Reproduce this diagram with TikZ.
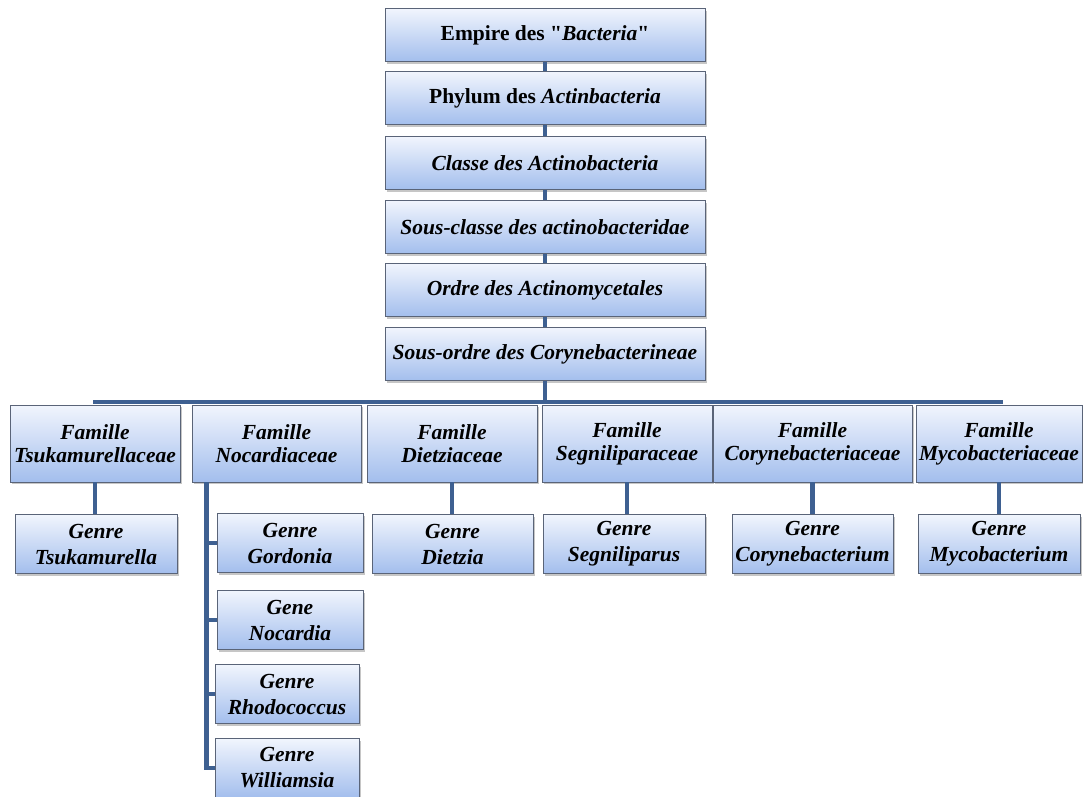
\documentclass[tikz,border=0pt]{standalone}
\usepackage{fontspec}
\setmainfont{Liberation Serif}[Ligatures=TeXOff]
\usetikzlibrary{shadows}
\definecolor{boxtop}{RGB}{241,245,253}
\definecolor{boxbottom}{RGB}{163,190,237}
\definecolor{boxline}{RGB}{90,100,120}
\definecolor{link}{RGB}{62,96,145}
\tikzstyle{taxon}=[draw=boxline, line width=0.6pt, rectangle, top color=boxtop, bottom color=boxbottom, align=center, inner sep=0pt, font=\fontsize{21.5}{23}\selectfont\bfseries\itshape, drop shadow={shadow xshift=1.5pt, shadow yshift=-2pt, opacity=0.45}]
\tikzstyle{rank}=[taxon, minimum width=320pt, minimum height=53pt]
\tikzstyle{famille}=[taxon, minimum height=77pt]
\tikzstyle{genre}=[taxon, minimum height=59pt, font=\fontsize{21.5}{26}\selectfont\bfseries\itshape]
\tikzstyle{branch}=[draw=link, line width=4.5pt]

\begin{document}
\begin{tikzpicture}[x=1pt, y=1pt]
\useasboundingbox (0,0) rectangle (1083,-796);

\node[rank] (empire)     at (545,-35)  {{\upshape Empire des "}\textit{Bacteria}{\upshape "}};
\node[rank] (phylum)     at (545,-98)  {{\upshape Phylum des} Actinbacteria};
\node[rank] (classe)     at (545,-163) {Classe des Actinobacteria};
\node[rank] (sousclasse) at (545,-227) {Sous-classe des actinobacteridae};
\node[rank] (ordre)      at (545,-290) {Ordre des Actinomycetales};
\node[rank] (sousordre)  at (545,-354) {Sous-ordre des Corynebacterineae};
\draw [branch] (empire) -- (phylum);
\draw [branch] (phylum) -- (classe);
\draw [branch] (classe) -- (sousclasse);
\draw [branch] (sousclasse) -- (ordre);
\draw [branch] (ordre) -- (sousordre);

\coordinate (bus)  at (545,-402);
\coordinate (busW) at (93,-402);
\coordinate (busE) at (1003,-402);
\draw [branch] (sousordre) -- (bus);
\draw [branch, line width=4pt] (busW) -- (busE);

\node[famille, minimum width=170pt] (famTsuka) at (95,-443.5)    {Famille\\Tsukamurellaceae};
\node[famille, minimum width=169pt] (famNoca)  at (276.5,-443.5) {Famille\\Nocardiaceae};
\node[famille, minimum width=170pt] (famDietz) at (452,-443.5)   {Famille\\Dietziaceae};
\node[famille, minimum width=170pt] (famSegni) at (627,-443.5)   {Famille\\Segniliparaceae};
\node[famille, minimum width=199pt] (famCoryn) at (812.5,-443.5) {Famille\\Corynebacteriaceae};
\node[famille, minimum width=166pt] (famMyco)  at (999,-443.5)   {Famille\\Mycobacteriaceae};

\node[genre, minimum width=162pt] (genTsuka) at (96,-544)    {Genre\\Tsukamurella};
\node[genre, minimum width=146pt] (genGord)  at (290,-543)   {Genre\\Gordonia};
\node[genre, minimum width=146pt] (genNoca)  at (290,-620)   {Gene\\Nocardia};
\node[genre, minimum width=144pt] (genRhodo) at (287,-694)   {Genre\\Rhodococcus};
\node[genre, minimum width=144pt] (genWill)  at (287,-768)   {Genre\\Williamsia};
\node[genre, minimum width=161pt] (genDietz) at (452.5,-544) {Genre\\Dietzia};
\node[genre, minimum width=162pt] (genSegni) at (624,-544)   {Genre\\Segniliparus};
\node[genre, minimum width=161pt] (genCoryn) at (812.5,-544) {Genre\\Corynebacterium};
\node[genre, minimum width=162pt] (genMyco)  at (999,-544)   {Genre\\Mycobacterium};

\draw [branch] (famTsuka.south) -- (famTsuka.south |- genTsuka.north);
\draw [branch] (famDietz.south) -- (famDietz.south |- genDietz.north);
\draw [branch] (famSegni.south) -- (famSegni.south |- genSegni.north);
\draw [branch] (famCoryn.south) -- (famCoryn.south |- genCoryn.north);
\draw [branch] (famMyco.south) -- (famMyco.south |- genMyco.north);

\coordinate (trunk) at ([xshift=15pt]famNoca.south west);
\draw [branch] (trunk) -- (trunk |- genWill.west) -- (genWill.west);
\draw [branch] (trunk |- genGord.west) -- (genGord.west);
\draw [branch] (trunk |- genNoca.west) -- (genNoca.west);
\draw [branch] (trunk |- genRhodo.west) -- (genRhodo.west);
\end{tikzpicture}
\end{document}
